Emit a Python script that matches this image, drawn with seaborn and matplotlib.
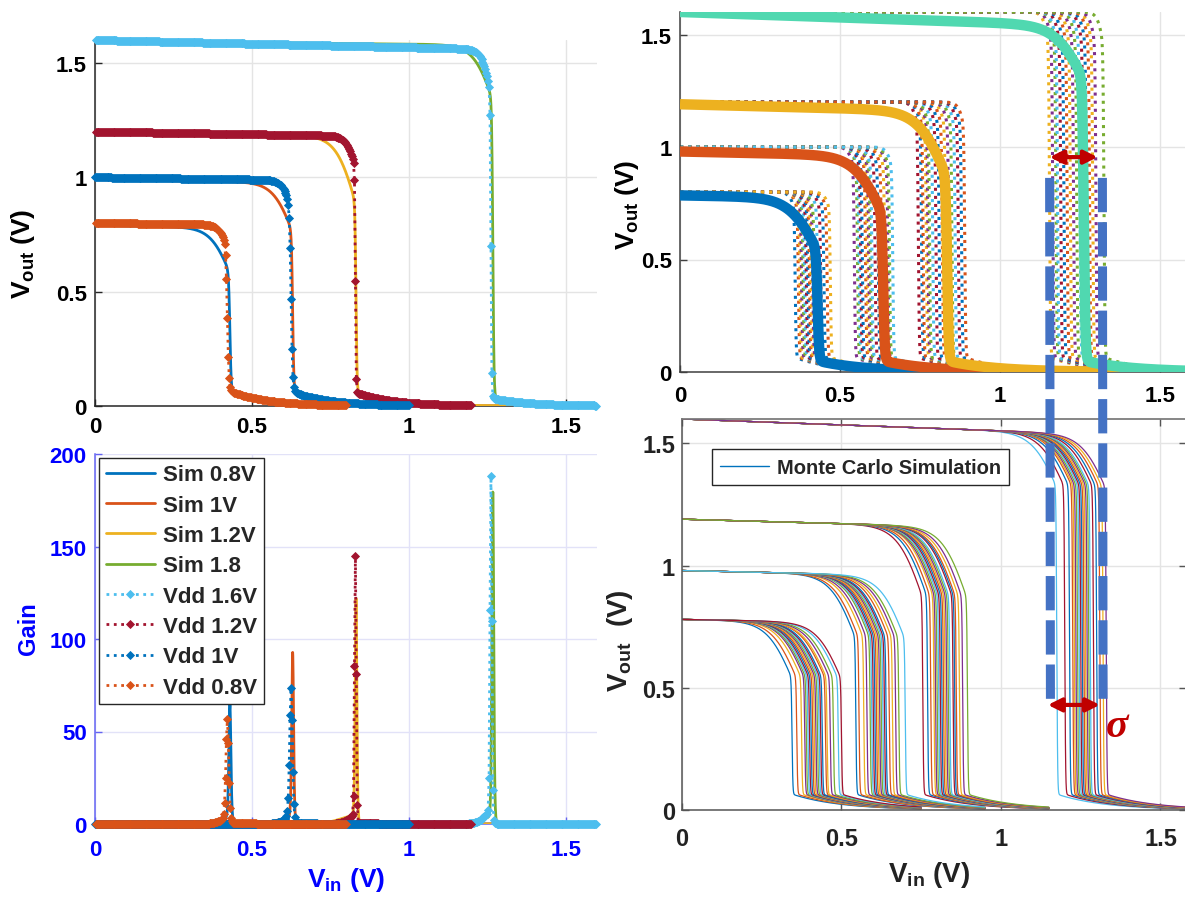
import numpy as np
import pandas as pd
import matplotlib
matplotlib.use("Agg")
import matplotlib.pyplot as plt
from matplotlib.lines import Line2D
from matplotlib.patches import ConnectionPatch
import seaborn as sns

# ---------------------------------------------------------------- data
# MATLAB default line colour order
MAT = ["#0072BD", "#D95319", "#EDB120", "#7E2F8E", "#77AC30", "#4DBEEE", "#A2142F"]

# simulated inverter transfer curves (solid lines)
sim_labels = ["Sim 0.8V", "Sim 1V", "Sim 1.2V", "Sim 1.8"]
sim_vdd = [0.79, 0.99, 1.195, 1.595]
sim_vm = [0.430, 0.630, 0.832, 1.268]
sim_peak_gain = [65, 93, 122, 180]
sim_droop = [0.25, 0.22, 0.25, 0.15]
sim_slope = [0.03, 0.02, 0.015, 0.008]
sim_tail = [0.06, 0.06, 0.055, 0.035]
sim_colors = ["#0072BD", "#D95319", "#EDB120", "#77AC30"]

# measured transfer curves (dotted + diamonds)
meas_labels = ["Vdd 1.6V", "Vdd 1.2V", "Vdd 1V", "Vdd 0.8V"]
meas_vdd = [1.6, 1.2, 1.0, 0.8]
meas_vm = [1.262, 0.830, 0.625, 0.422]
meas_peak_gain = [188, 145, 73, 57]
meas_tail = [0.035, 0.06, 0.065, 0.07]
meas_colors = ["#4DBEEE", "#A2142F", "#0072BD", "#D95319"]

# nominal curves drawn thick behind the Monte Carlo spread
nom_vdd = [0.785, 0.98, 1.19, 1.6]
nom_vm = [0.430, 0.635, 0.835, 1.262]
nom_droop = [0.30, 0.27, 0.25, 0.15]
nom_colors = ["#0072BD", "#D95319", "#EDB120", "#50D8B0"]

# Monte Carlo switching points, dotted set (upper right)
mc_dot_vdd = [0.8, 1.0, 1.2, 1.6]
mc_dot_vm = [
    [0.36, 0.37, 0.375, 0.38, 0.385, 0.39, 0.395, 0.40, 0.405, 0.41, 0.415, 0.42, 0.43, 0.44, 0.45, 0.46, 0.47],
    [0.545, 0.555, 0.56, 0.565, 0.57, 0.58, 0.585, 0.59, 0.595, 0.60, 0.61, 0.62, 0.63, 0.64, 0.65, 0.655, 0.665],
    [0.745, 0.755, 0.76, 0.77, 0.775, 0.78, 0.79, 0.80, 0.81, 0.82, 0.83, 0.84, 0.85, 0.86, 0.87, 0.88, 0.89],
    [1.155, 1.165, 1.175, 1.18, 1.19, 1.20, 1.21, 1.22, 1.23, 1.24, 1.25, 1.26, 1.27, 1.28, 1.29, 1.30, 1.325],
]

# Monte Carlo switching points, thin set (lower right)
mc_vdd = [0.78, 0.98, 1.19, 1.6]
mc_xend = [0.75, 0.95, 1.15, 1.6]
mc_droop = [0.30, 0.27, 0.25, 0.14]
mc_vm = [
    [0.345, 0.36, 0.375, 0.385, 0.39, 0.395, 0.40, 0.405, 0.41, 0.415, 0.42, 0.425, 0.43, 0.435, 0.44, 0.45, 0.455, 0.465, 0.475, 0.49, 0.50],
    [0.545, 0.555, 0.57, 0.58, 0.59, 0.595, 0.60, 0.605, 0.61, 0.615, 0.62, 0.625, 0.63, 0.635, 0.64, 0.65, 0.66, 0.67, 0.68, 0.70],
    [0.755, 0.77, 0.78, 0.79, 0.795, 0.80, 0.805, 0.81, 0.815, 0.82, 0.825, 0.83, 0.835, 0.84, 0.85, 0.855, 0.86, 0.87, 0.88, 0.895],
    [1.175, 1.20, 1.215, 1.225, 1.23, 1.235, 1.24, 1.245, 1.25, 1.255, 1.26, 1.265, 1.27, 1.275, 1.28, 1.29, 1.30, 1.31, 1.32, 1.33],
]

# spread of the switching point at Vdd = 1.6 V
sigma_lo, sigma_hi = 1.155, 1.32

tick_v = [0, 0.5, 1, 1.5]
tick_v_labels = ["0", "0.5", "1", "1.5"]
tick_gain = [0, 50, 100, 150, 200]
tick_gain_labels = ["0", "50", "100", "150", "200"]


# ---------------------------------------------------------------- model
def vtc(x, vdd, vm, w, droop, kw, slope, tail, tw):
    """Inverter voltage transfer curve: high branch with knee, steep step, low tail."""
    z = np.clip((x - vm) / kw, -200, 200)
    knee = 2.0 * droop * vdd / (1.0 + np.exp(-z))
    high = vdd * (1.0 - slope * x) - knee
    low = tail * np.exp(-np.maximum(x - vm, 0.0) / tw)
    s = 0.5 * (1.0 - np.tanh((x - vm) / w))
    return s * high + (1.0 - s) * low


def fit_width(x, target, **shape):
    """Transition width whose peak of -dVout/dVin is closest to the target gain."""
    cands = np.geomspace(1e-4, 0.05, 400)
    peaks = np.array([(-np.gradient(vtc(x, w=c, **shape), x)).max() for c in cands])
    return cands[np.argmin(np.abs(peaks - target))]


# ---------------------------------------------------------------- style
sns.set_theme(style="white")
plt.rcParams["font.family"] = ["Liberation Sans", "DejaVu Sans"]
plt.rcParams["font.weight"] = "bold"
plt.rcParams["axes.labelweight"] = "bold"
plt.rcParams["mathtext.fontset"] = "custom"
plt.rcParams["mathtext.rm"] = "Liberation Sans:bold"
plt.rcParams["mathtext.bf"] = "Liberation Sans:bold"
plt.rcParams["mathtext.it"] = "Liberation Sans:bold:italic"

W, H = 1185, 904
fig = plt.figure(figsize=(W / 100, H / 100), dpi=100)
fig.patch.set_facecolor("white")
ax1 = fig.add_axes([95 / W, 1 - 407 / H, 502 / W, 366 / H])
ax2 = fig.add_axes([95 / W, 1 - 825 / H, 502 / W, 370 / H])
ax3 = fig.add_axes([680 / W, 1 - 373 / H, 505.6 / W, 360 / H])
ax4 = fig.add_axes([682 / W, 1 - 811 / H, 504 / W, 391 / H])


def style_axes(ax, spine_col, grid_col, tick_col, size, pad=(6, 6)):
    for side in ["top", "right"]:
        ax.spines[side].set_visible(False)
    for side in ["left", "bottom"]:
        ax.spines[side].set_color(spine_col)
        ax.spines[side].set_linewidth(1.1)
    ax.grid(True, color=grid_col, lw=1)
    ax.set_axisbelow(True)
    ax.tick_params(axis="both", which="both", direction="in", length=5, width=1,
                   color=spine_col, labelcolor=tick_col, labelsize=size,
                   bottom=True, left=True)
    ax.tick_params(axis="x", pad=pad[0])
    ax.tick_params(axis="y", pad=pad[1])
    for lab in ax.get_xticklabels() + ax.get_yticklabels():
        lab.set_fontweight("bold")


# ---------------------------------------------------------------- top left: transfer curves
x_sim = np.linspace(0, 1.6, 3201)
sim_curves, sim_gains = [], []
for vdd, vm, g, dr, sl, tl in zip(sim_vdd, sim_vm, sim_peak_gain, sim_droop, sim_slope, sim_tail):
    shape = dict(vdd=vdd, vm=vm, droop=dr, kw=0.032, slope=sl, tail=tl, tw=0.12)
    w = fit_width(x_sim, g, **shape)
    v = vtc(x_sim, w=w, **shape)
    sim_curves.append(v)
    sim_gains.append(-np.gradient(v, x_sim))

h_meas = 0.003
meas_x, meas_curves, meas_gains = [], [], []
for vdd, vm, g, tl in zip(meas_vdd, meas_vm, meas_peak_gain, meas_tail):
    x = vm + h_meas * np.arange(-int(vm / h_meas), int((vdd - vm) / h_meas) + 1)
    shape = dict(vdd=vdd, vm=vm, droop=0.12, kw=0.015, slope=0.02, tail=tl, tw=0.12)
    w = fit_width(x, g, **shape)
    v = vtc(x, w=w, **shape)
    meas_x.append(x)
    meas_curves.append(v)
    meas_gains.append(-np.gradient(v, x))

for v, c in zip(sim_curves, sim_colors):
    sns.lineplot(x=x_sim, y=v, ax=ax1, color=c, lw=2.0, estimator=None, sort=False, zorder=3)
for x, v, c in zip(meas_x, meas_curves, meas_colors):
    sns.lineplot(x=x, y=v, ax=ax1, color=c, lw=2.0, linestyle=":", marker="D",
                 markersize=4.5, markeredgewidth=0.6, markeredgecolor=c,
                 estimator=None, sort=False, zorder=4, clip_on=False)

ax1.set_xlim(0, 1.6)
ax1.set_ylim(0, 1.6)
ax1.set_xticks(tick_v, tick_v_labels)
ax1.set_yticks(tick_v, tick_v_labels)
style_axes(ax1, "#262626", "#E4E4E4", "black", 16, pad=(7, 6))
ax1.set_xlabel("")
ax1.set_ylabel(r"V$_{\mathrm{out}}$ (V)", fontsize=19, fontweight="bold", color="black")
ax1.yaxis.set_label_coords(-0.115, 0.42)

# ---------------------------------------------------------------- bottom left: gain
for v, c, lab in zip(sim_gains, sim_colors, sim_labels):
    sns.lineplot(x=x_sim, y=v, ax=ax2, color=c, lw=2.0, estimator=None, sort=False,
                 zorder=3, label=lab)
for x, v, c, lab in zip(meas_x, meas_gains, meas_colors, meas_labels):
    sns.lineplot(x=x, y=v, ax=ax2, color=c, lw=2.0, linestyle=":", marker="D",
                 markersize=4.5, markeredgewidth=0.6, markeredgecolor=c,
                 estimator=None, sort=False, zorder=4, clip_on=False, label=lab)

ax2.set_xlim(0, 1.6)
ax2.set_ylim(0, 200)
ax2.set_xticks(tick_v, tick_v_labels)
ax2.set_yticks(tick_gain, tick_gain_labels)
style_axes(ax2, "#6464F2", "#E2E2F8", "#0000FF", 16, pad=(11, 6))
ax2.set_xlabel(r"V$_{\mathrm{in}}$ (V)", fontsize=19, fontweight="bold", color="#0000FF")
ax2.set_ylabel("Gain", fontsize=17, fontweight="bold", color="#0000FF")
ax2.xaxis.set_label_coords(0.5, -0.11)
ax2.yaxis.set_label_coords(-0.11, 0.53)
leg = ax2.legend(handles=ax2.get_lines()[:8], labels=sim_labels + meas_labels,
                 loc="upper left", bbox_to_anchor=(0.008, 0.99), borderaxespad=0,
                 prop={"size": 16, "weight": "bold"}, handlelength=2.2,
                 handletextpad=0.4, labelspacing=0.42, borderpad=0.3,
                 fancybox=False, framealpha=1, edgecolor="#262626")
leg.get_frame().set_linewidth(1.0)
leg.set_zorder(10)

# ---------------------------------------------------------------- top right: nominal + Monte Carlo (dotted)
x_mc = np.linspace(0, 1.6, 1601)
rows = []
k = 0
for vdd, vms in zip(mc_dot_vdd, mc_dot_vm):
    for vm in vms:
        v = vtc(x_mc, vdd=vdd, vm=vm, w=0.003, droop=0.10, kw=0.01, slope=0.0, tail=0.065, tw=0.12)
        rows.append(pd.DataFrame({"vin": x_mc, "vout": v, "run": f"d{k:03d}"}))
        k += 1
mc_dot = pd.concat(rows, ignore_index=True)
runs = mc_dot["run"].unique()
pal = {r: MAT[i % 7] for i, r in enumerate(runs)}
sns.lineplot(data=mc_dot, x="vin", y="vout", hue="run", palette=pal, ax=ax3, lw=2.2,
             linestyle=":", estimator=None, sort=False, legend=False, zorder=2)

for vdd, vm, dr, c in zip(nom_vdd, nom_vm, nom_droop, nom_colors):
    v = vtc(x_mc, vdd=vdd, vm=vm, w=0.005, droop=dr, kw=0.045, slope=0.03, tail=0.05, tw=0.15)
    sns.lineplot(x=x_mc, y=v, ax=ax3, color=c, lw=7.5, estimator=None, sort=False,
                 zorder=3, solid_capstyle="butt")

ax3.set_xlim(0, 1.58)
ax3.set_ylim(0, 1.6)
ax3.set_xticks(tick_v, tick_v_labels)
ax3.set_yticks(tick_v, tick_v_labels)
style_axes(ax3, "#404040", "#E4E4E4", "black", 16, pad=(9, 6))
ax3.set_xlabel("")
ax3.set_ylabel(r"V$_{\mathrm{out}}$ (V)", fontsize=19, fontweight="bold", color="black")
ax3.yaxis.set_label_coords(-0.077, 0.467)

# ---------------------------------------------------------------- bottom right: Monte Carlo (thin)
rows = []
k = 0
for vdd, xe, dr, vms in zip(mc_vdd, mc_xend, mc_droop, mc_vm):
    x = np.linspace(0, xe, int(xe * 1000) + 1)
    for vm in vms:
        v = vtc(x, vdd=vdd, vm=vm, w=0.0025, droop=dr, kw=0.04, slope=0.03, tail=0.065, tw=0.15)
        rows.append(pd.DataFrame({"vin": x, "vout": v, "run": f"m{k:03d}"}))
        k += 1
mc_thin = pd.concat(rows, ignore_index=True)
runs = mc_thin["run"].unique()
pal = {r: MAT[i % 7] for i, r in enumerate(runs)}
sns.lineplot(data=mc_thin, x="vin", y="vout", hue="run", palette=pal, ax=ax4, lw=0.9,
             estimator=None, sort=False, legend=False, zorder=2)

ax4.set_xlim(0, 1.58)
ax4.set_ylim(0, 1.6)
ax4.set_xticks(tick_v, tick_v_labels)
ax4.set_yticks(tick_v, tick_v_labels)
style_axes(ax4, "#555555", "#E4E4E4", "#222222", 17, pad=(12, 5))
for side in ["top", "right"]:
    ax4.spines[side].set_visible(True)
    ax4.spines[side].set_color("#777777")
ax4.tick_params(top=True, right=True)
ax4.set_xlabel(r"V$_{\mathrm{in}}$ (V)", fontsize=20, fontweight="bold", color="#222222")
ax4.set_ylabel(r"V$_{\mathrm{out}}$  (V)", fontsize=20, fontweight="bold", color="#222222")
ax4.xaxis.set_label_coords(0.49, -0.125)
ax4.yaxis.set_label_coords(-0.093, 0.437)
leg4 = ax4.legend(handles=[Line2D([], [], color="#0072BD", lw=1.0)],
                  labels=["Monte Carlo Simulation"], loc="upper left",
                  bbox_to_anchor=(0.06, 0.922), borderaxespad=0,
                  prop={"size": 14.5, "weight": "bold"},
                  handlelength=2.4, handletextpad=0.4, borderpad=0.4,
                  fancybox=False, framealpha=1, edgecolor="#262626")
leg4.get_frame().set_linewidth(1.0)

# ---------------------------------------------------------------- spread markers
for xs, y_top in [(sigma_lo, 0.893), (sigma_hi, 0.88)]:
    con = ConnectionPatch(xyA=(xs, 0.455), coordsA=ax4.transData,
                          xyB=(xs, y_top), coordsB=ax3.transData,
                          color="#4472C4", lw=6.5, linestyle=(0, (3.8, 1.1)),
                          capstyle="butt", zorder=20)
    fig.add_artist(con)

arrow = dict(arrowstyle="<|-|>", color="#C00000", lw=3, mutation_scale=20, shrinkA=0, shrinkB=0)
ax3.annotate("", xy=(sigma_lo, 0.955), xytext=(sigma_hi - 0.015, 0.955),
             arrowprops=arrow, annotation_clip=False, zorder=21)
ax4.annotate("", xy=(sigma_lo - 0.008, 0.43), xytext=(sigma_hi - 0.01, 0.43),
             arrowprops=arrow, annotation_clip=False, zorder=21)
ax4.text(sigma_hi + 0.045, 0.345, "σ", color="#C00000", fontsize=30, fontweight="bold",
         style="italic", family=["Liberation Serif", "DejaVu Serif"],
         ha="center", va="center", zorder=21)

fig.savefig("out.png", dpi=100, facecolor="white")
